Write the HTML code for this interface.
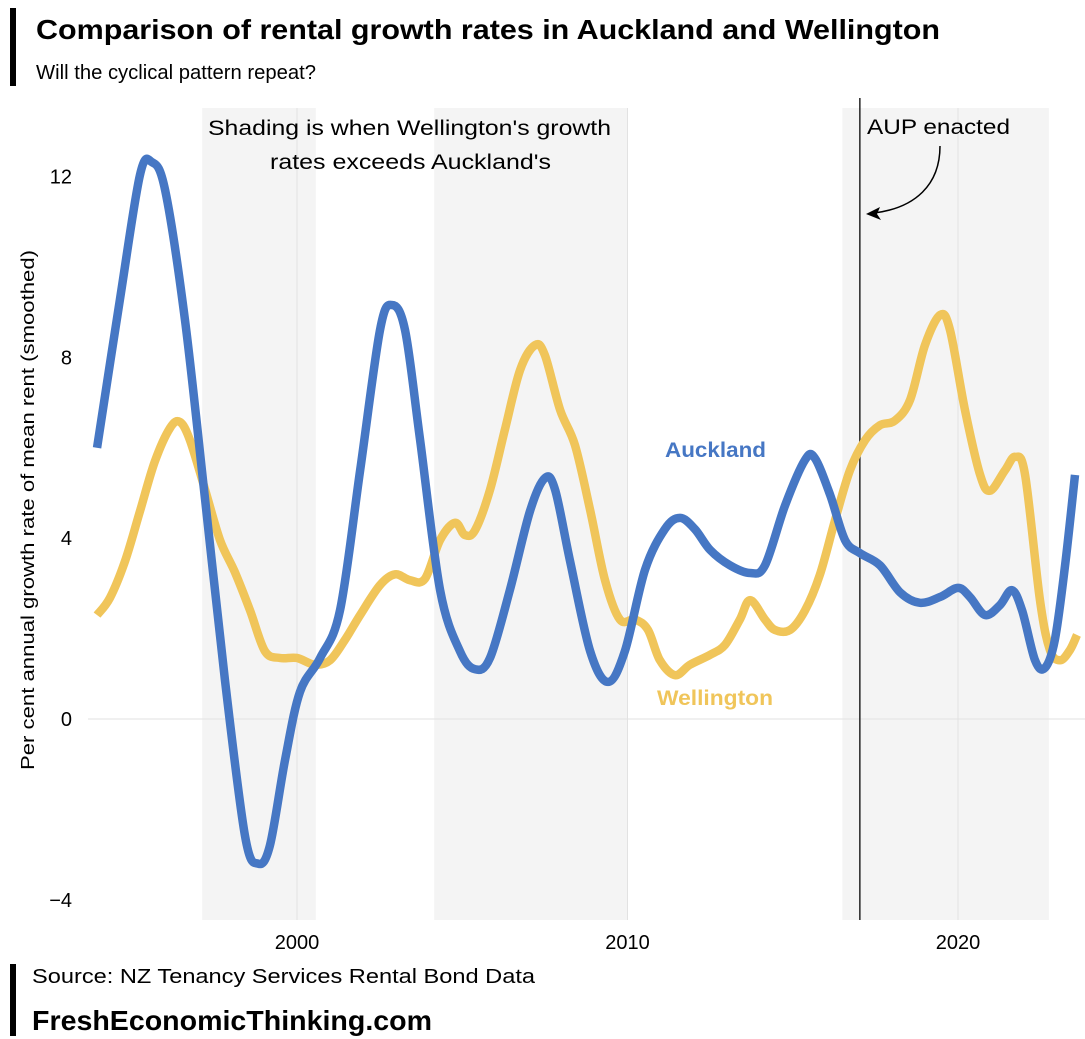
<!DOCTYPE html>
<html><head><meta charset="utf-8"><style>
body{margin:0;background:#fff;}
svg{display:block;font-family:"Liberation Sans",Arial,sans-serif;}
</style></head><body>
<svg id="chart" width="1085" height="1039">
<rect x="10" y="8" width="6" height="78" fill="#000"/>
<text x="36" y="39" font-size="28" font-weight="bold" fill="#000" textLength="904" lengthAdjust="spacingAndGlyphs">Comparison of rental growth rates in Auckland and Wellington</text>
<text x="36" y="79" font-size="20" fill="#000" textLength="280" lengthAdjust="spacingAndGlyphs">Will the cyclical pattern repeat?</text>
<g id="shades"></g>
<g id="grid"></g>
<g id="series"></g>
<g id="labels"></g>
<text transform="translate(34,510) rotate(-90)" text-anchor="middle" font-size="18" fill="#000" textLength="520" lengthAdjust="spacingAndGlyphs">Per cent annual growth rate of mean rent (smoothed)</text>
<rect x="10" y="964" width="6" height="72" fill="#000"/>
<text x="32" y="983" font-size="20" fill="#000" textLength="503" lengthAdjust="spacingAndGlyphs">Source: NZ Tenancy Services Rental Bond Data</text>
<text x="32" y="1030" font-size="28" font-weight="bold" fill="#000" textLength="400" lengthAdjust="spacingAndGlyphs">FreshEconomicThinking.com</text>
</svg>
<script>
const xTicks=[2000,2010,2020];
const yTicks=[-4,0,4,8,12];
const shadeStarts=[1997.13,2004.15,2016.5];
const shadeEnds=[2000.57,2010.0,2022.75];
const aupYear=2017.03;
const aucYears=[1993.95,1994.64,1995.25,1995.61,1996.01,1996.61,1997.22,1997.82,1998.43,1998.82,1999.18,1999.64,2000.09,2000.70,2001.30,2001.91,2002.51,2002.87,2003.27,2003.72,2004.33,2004.93,2005.39,2005.84,2006.44,2007.05,2007.50,2007.81,2008.26,2008.87,2009.41,2009.92,2010.53,2011.13,2011.59,2012.04,2012.50,2013.10,2013.71,2014.16,2014.77,2015.37,2015.67,2016.13,2016.58,2017.03,2017.64,2018.25,2018.85,2019.46,2020.0,2020.36,2020.82,2021.27,2021.63,2021.94,2022.33,2022.63,2022.93,2023.24,2023.54];
const aucValues=[6.0,9.27,12.04,12.32,11.70,8.83,4.85,0.86,-2.6,-3.2,-2.8,-0.9,0.6,1.35,2.4,5.5,8.6,9.16,8.6,6.2,2.85,1.5,1.1,1.35,2.85,4.6,5.33,5.07,3.5,1.5,0.82,1.5,3.3,4.2,4.45,4.2,3.74,3.4,3.23,3.4,4.73,5.73,5.77,4.96,3.96,3.67,3.4,2.8,2.57,2.7,2.9,2.7,2.3,2.52,2.85,2.4,1.3,1.13,1.75,3.4,5.4];
const welYears=[1993.95,1994.34,1994.8,1995.25,1995.7,1996.16,1996.46,1996.76,1997.22,1997.67,1998.12,1998.58,1999.03,1999.49,2000.0,2000.54,2001.0,2001.45,2001.91,2002.51,2002.97,2003.42,2003.87,2004.33,2004.78,2005.08,2005.39,2005.84,2006.29,2006.75,2007.2,2007.5,2007.96,2008.41,2008.87,2009.32,2009.77,2010.23,2010.62,2010.98,2011.44,2011.89,2012.5,2012.95,2013.4,2013.71,2014.16,2014.46,2014.92,2015.37,2015.82,2016.28,2016.73,2017.19,2017.64,2018.09,2018.55,2019.0,2019.46,2019.76,2020.21,2020.67,2020.97,2021.42,2021.73,2022.03,2022.48,2022.78,2023.09,2023.39,2023.6];
const welValues=[2.3,2.68,3.5,4.6,5.7,6.44,6.57,6.17,5.07,3.96,3.25,2.4,1.5,1.35,1.35,1.2,1.3,1.75,2.3,2.96,3.2,3.07,3.1,3.96,4.34,4.07,4.18,5.07,6.4,7.72,8.27,8.05,6.84,6.06,4.62,3.07,2.2,2.2,1.97,1.3,0.97,1.2,1.42,1.64,2.2,2.63,2.2,1.97,1.97,2.4,3.19,4.4,5.5,6.17,6.5,6.6,7.06,8.27,8.94,8.6,6.84,5.4,5.05,5.5,5.8,5.4,2.63,1.53,1.3,1.53,1.86];

const NS='http://www.w3.org/2000/svg';
const X=y=>297+(y-2000)*33.05;
const Y=v=>719-v*45.2;
const plotTop=108,plotBottom=920,plotLeft=88,plotRight=1085;
function mk(tag,attrs,parent){const e=document.createElementNS(NS,tag);for(const k in attrs)e.setAttribute(k,attrs[k]);document.getElementById(parent).appendChild(e);return e;}
shadeStarts.forEach((s,i)=>{
  const r=mk('rect',{x:X(s),y:plotTop,width:X(shadeEnds[i])-X(s),height:plotBottom-plotTop,fill:'#f4f4f4'},'shades');
  
  
});
xTicks.forEach(t=>{
  const l=mk('line',{x1:X(t),x2:X(t),y1:plotTop,y2:plotBottom,stroke:'#e2e2e2','stroke-width':1},'grid');
  
  
  const tx=mk('text',{x:X(t),y:949,'text-anchor':'middle','font-size':20,fill:'#000'},'grid');
  tx.textContent=t;
  
  
});
yTicks.forEach(t=>{
  if(t===0){const l=mk('line',{x1:plotLeft,x2:plotRight,y1:Y(0),y2:Y(0),stroke:'#e2e2e2'},'grid');
    
    }
  const tx=mk('text',{x:72,y:Y(t)+7,'text-anchor':'end','font-size':20,fill:'#000'},'grid');
  tx.textContent=(t<0?'\u2212'+(-t):t);
  
  
});
const aup=mk('line',{x1:X(aupYear),x2:X(aupYear),y1:98,y2:plotBottom,stroke:'#333','stroke-width':1.6},'grid');


function path(xs,vs){
  const p=xs.map((x,i)=>[X(x),Y(vs[i])]);
  let d='M'+p[0][0]+','+p[0][1];
  for(let i=0;i<p.length-1;i++){
    const p0=p[Math.max(i-1,0)],p1=p[i],p2=p[i+1],p3=p[Math.min(i+2,p.length-1)];
    const c1=[p1[0]+(p2[0]-p0[0])/6,p1[1]+(p2[1]-p0[1])/6];
    const c2=[p2[0]-(p3[0]-p1[0])/6,p2[1]-(p3[1]-p1[1])/6];
    d+=` C${c1[0]},${c1[1]} ${c2[0]},${c2[1]} ${p2[0]},${p2[1]}`;
  }
  return d;
}
const wl=mk('path',{d:path(welYears,welValues),fill:'none',stroke:'#f0c55a','stroke-width':8.5,'stroke-linejoin':'round'},'series');


const al=mk('path',{d:path(aucYears,aucValues),fill:'none',stroke:'#4677c4','stroke-width':8.5,'stroke-linejoin':'round'},'series');


function lab(txt,x,y,attrs,name){const t=mk('text',Object.assign({x:x,y:y,'font-size':21,lengthAdjust:'spacingAndGlyphs'},attrs),'labels');t.textContent=txt;
  
  return t;}
lab("Shading is when Wellington's growth",208,135,{fill:'#000',textLength:403},'shading-note-line1');
lab("rates exceeds Auckland's",270,169,{fill:'#000',textLength:281},'shading-note-line2');
lab("AUP enacted",867,134,{fill:'#000',textLength:143},'aup-annotation');
lab("Auckland",665,457,{fill:'#4677c4','font-weight':'bold',textLength:101},'auckland-label');
lab("Wellington",657,705,{fill:'#f0c55a','font-weight':'bold',textLength:116},'wellington-label');
const arr=mk('path',{d:'M940,146 C940,185 915,208 874,213',fill:'none',stroke:'#000','stroke-width':1.5},'labels');


const head=mk('path',{d:'M866,214 L880,207 L877,214 L881,220 Z',fill:'#000'},'labels');


</script>
</body></html>
